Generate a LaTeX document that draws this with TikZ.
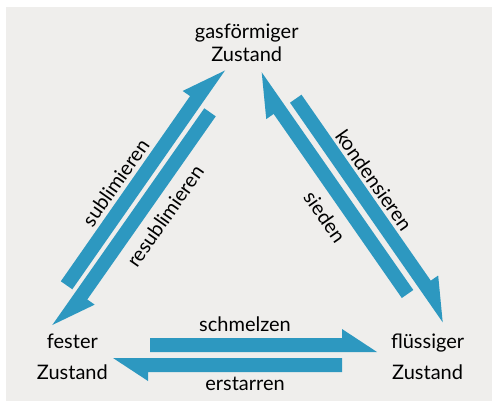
\documentclass[tikz,border=0pt]{standalone}
\usepackage{fontspec}
\setmainfont{Lato}
\usetikzlibrary{calc}
\definecolor{phaseblue}{RGB}{45,152,192}
\definecolor{panelgrey}{RGB}{239,238,236}
\tikzset{
  state/.style={align=center,anchor=base,font=\fontsize{20}{23.4}\selectfont},
  process/.style={font=\fontsize{20}{22}\selectfont},
}
% block arrow with a one-sided head: #1 tail, #2 tip, #3 head length
\newcommand{\halfarrow}[3]{%
  \coordinate (#2-back) at ($(#2)!#3!(#1)$);
  \fill[phaseblue] (#1) -- (#2) -- ($(#2-back)!23pt!90:(#2)$)
    -- ($(#2-back)!14pt!90:(#2)$) -- ($(#1)!14pt!90:(#2)$) -- cycle;
}
\begin{document}
\begin{tikzpicture}[x=1pt,y=-1pt]
\useasboundingbox (0,0) rectangle (492,401);
\fill[panelgrey] (6,7) rectangle (492,401);
% the three states (base = last line)
\node[state] (gas) at (246.7,61.7) {gasförmiger\\Zustand};
\node[state,font=\fontsize{20}{30.7}\selectfont] (solid) at (72.4,379) {fester\\Zustand};
\node[state,font=\fontsize{20}{30.7}\selectfont] (liquid) at (427.6,379) {flüssiger\\Zustand};
% arrow ends
\coordinate (melt-a) at (150,352);
\coordinate (melt-b) at (377,352);
\coordinate (freeze-a) at (342,358);
\coordinate (freeze-b) at (113,358);
\coordinate (sub-a) at (72.3,289.3);
\coordinate (sub-b) at (225,70.5);
\coordinate (resub-a) at (204.3,108.3);
\coordinate (resub-b) at (52.3,325);
\coordinate (boil-a) at (413.3,290);
\coordinate (boil-b) at (261.7,72.3);
\coordinate (cond-a) at (290,102.7);
\coordinate (cond-b) at (442.7,322.3);
\halfarrow{melt-a}{melt-b}{35pt}
\halfarrow{freeze-a}{freeze-b}{35pt}
\halfarrow{sub-a}{sub-b}{41pt}
\halfarrow{resub-a}{resub-b}{41pt}
\halfarrow{boil-a}{boil-b}{41pt}
\halfarrow{cond-a}{cond-b}{41pt}
% process names
\node[process,anchor=base] (melt) at (245,331.7) {schmelzen};
\node[process,anchor=base] (freeze) at (245,390.7) {erstarren};
\node[process,rotate=55] (sub) at (115.5,182.5) {sublimieren};
\node[process,rotate=55] (resub) at (165,216) {resublimieren};
\node[process,rotate=-55] (cond) at (374,180) {kondensieren};
\node[process,rotate=-55] (boil) at (325,217) {sieden};
\end{tikzpicture}
\end{document}
